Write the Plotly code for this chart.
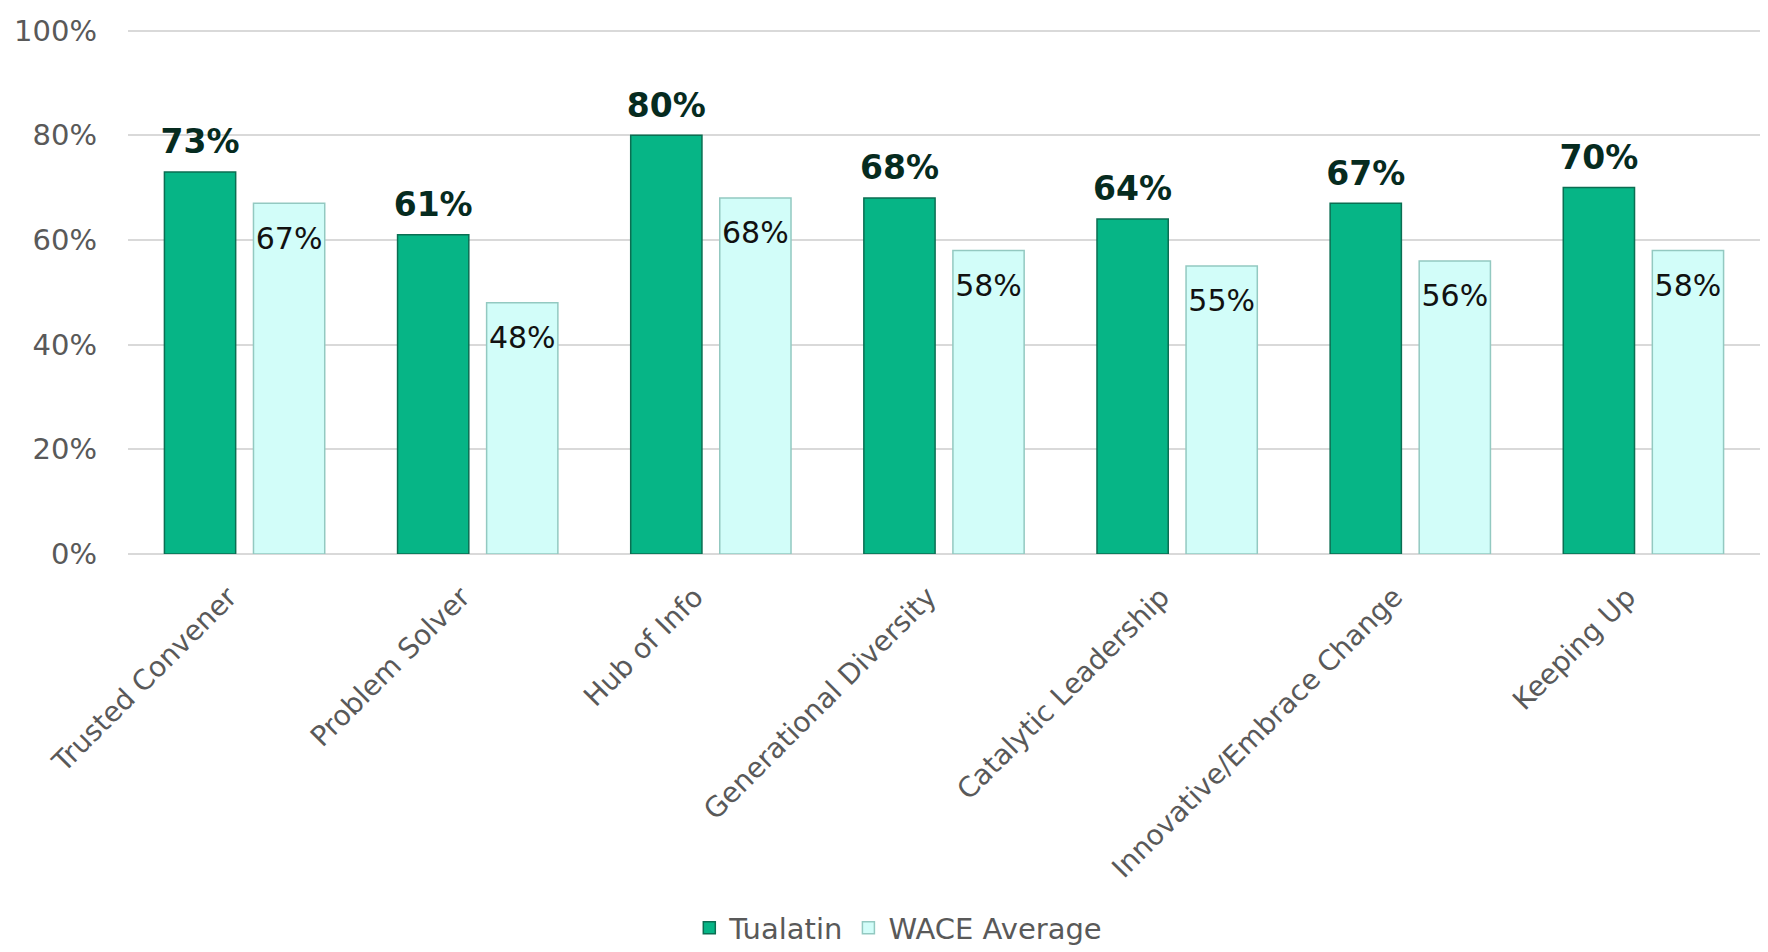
import plotly.graph_objects as go

categories = ["Trusted Convener", "Problem Solver", "Hub of Info", "Generational Diversity",
              "Catalytic Leadership", "Innovative/Embrace Change", "Keeping Up"]
tualatin = [73, 61, 80, 68, 64, 67, 70]
wace_average = [67, 48, 68, 58, 55, 56, 58]
y_ticks = [0, 20, 40, 60, 80, 100]
y_tick_labels = ["0%", "20%", "40%", "60%", "80%", "100%"]

FONT = "DejaVu Sans"

fig = go.Figure()
fig.add_trace(go.Bar(
    name="Tualatin", x=categories, y=tualatin, offsetgroup="t",
    marker=dict(color="#06b586", line=dict(color="#0b6e52", width=1.5)),
))
fig.add_trace(go.Bar(
    name="WACE Average", x=categories, y=wace_average, offsetgroup="w",
    marker=dict(color="#d2fdf9", line=dict(color="#93c9c1", width=1.5)),
))
# data labels
fig.add_trace(go.Scatter(
    x=categories, y=tualatin, offsetgroup="t", mode="markers+text",
    marker=dict(size=15, opacity=0), showlegend=False, hoverinfo="skip",
    text=[f"{v}%" for v in tualatin], textposition="top center",
    textfont=dict(family=FONT, size=33, color="#062b1f", weight="bold"),
    cliponaxis=False,
))
fig.add_trace(go.Scatter(
    x=categories, y=wace_average, offsetgroup="w", mode="markers+text",
    marker=dict(size=35, opacity=0), showlegend=False, hoverinfo="skip",
    text=[f"{v}%" for v in wace_average], textposition="bottom center",
    textfont=dict(family=FONT, size=30, color="#111111"),
    cliponaxis=False,
))

fig.update_layout(
    width=1768, height=952,
    margin=dict(l=128, r=8, t=29, b=398, autoexpand=False),
    paper_bgcolor="white", plot_bgcolor="white",
    barmode="group", bargap=0.236, bargroupgap=0.2, scattermode="group",
    font=dict(family=FONT, color="#595959"),
    showlegend=True,
    legend=dict(orientation="h", x=0.472, xanchor="center", y=-0.712, yanchor="middle",
                font=dict(family=FONT, size=29, color="#595959")),
    xaxis=dict(tickangle=-45, tickfont=dict(family=FONT, size=28, color="#595959"),
               showgrid=False, showline=False, ticks="", automargin=False,
               ticklabelstandoff=20, ticklabelshift=-16),
    yaxis=dict(range=[0, 100.3], tickvals=y_ticks, ticktext=y_tick_labels,
               tickfont=dict(family=FONT, size=29, color="#595959"),
               showgrid=True, gridcolor="#d9d9d9", gridwidth=2,
               zeroline=True, zerolinecolor="#d9d9d9", zerolinewidth=2,
               showline=False, ticks="", ticklabelstandoff=30, automargin=False),
)

fig.write_html("out.html")
